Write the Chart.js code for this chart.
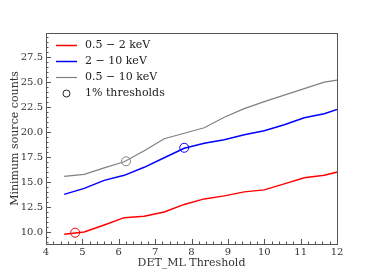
<!DOCTYPE html>
<html>
<head>
<meta charset="utf-8">
<script src="https://cdn.jsdelivr.net/npm/chart.js@4"></script>
<style>
  html, body { margin: 0; padding: 0; background: #fff; }
  #wrap { width: 374px; height: 280px; }
</style>
</head>
<body>
<div id="wrap"><canvas id="chart"></canvas></div>
<script>
// DET_ML grid and the minimum counts per band
const detml = [4.5, 5.05, 5.6, 6.15, 6.7, 7.25, 7.8, 8.35, 8.9, 9.45, 10.0, 10.55, 11.1, 11.65, 12.2];
const soft  = [9.83, 10.05, 10.75, 11.48, 11.62, 12.05, 12.8, 13.35, 13.65, 14.05, 14.25, 14.85, 15.45, 15.7, 16.2];
const hard  = [13.8, 14.4, 15.2, 15.7, 16.5, 17.45, 18.4, 18.9, 19.25, 19.75, 20.15, 20.75, 21.45, 21.85, 22.5];
const full  = [15.6, 15.8, 16.45, 17.05, 18.15, 19.35, 19.9, 20.45, 21.5, 22.35, 23.05, 23.7, 24.35, 25.0, 25.3];

const bandLabels = ['0.5 \u2212 2 keV', '2 \u2212 10 keV', '0.5 \u2212 10 keV'];
const bandColors = ['#ff0000', '#0000ff', '#808080'];

// 1% thresholds (red, gray, blue)
const thrX = [4.8, 6.2, 7.8];
const thrY = [9.98, 17.1, 18.45];
const thrColors = ['#ff0000', '#808080', '#0000ff'];

const xMajor = [4, 5, 6, 7, 8, 9, 10, 11, 12];
const yMajor = [10, 12.5, 15, 17.5, 20, 22.5, 25, 27.5];

const serif = 'DejaVu Serif';
const txt = '#333';

function pts(xs, ys) {
  return xs.map((x, i) => ({x: x, y: ys[i]}));
}

// frame, inward ticks and the legend box inside the axes
const mplStyle = {
  id: 'mplStyle',
  afterDraw(chart) {
    const ctx = chart.ctx;
    const a = chart.chartArea;
    const sx = chart.scales.x, sy = chart.scales.y;
    ctx.save();
    ctx.strokeStyle = '#555';
    ctx.lineWidth = 1;
    ctx.beginPath();
    for (let v = 4; v <= 12.0001; v += 0.2) {
      const px = Math.round(sx.getPixelForValue(v)) + 0.5;
      const major = Math.abs(v - Math.round(v)) < 0.01;
      ctx.moveTo(px, a.bottom);
      ctx.lineTo(px, a.bottom - (major ? 5 : 2.5));
    }
    for (let v = 9; v <= 29.5001; v += 0.5) {
      const py = Math.round(sy.getPixelForValue(v)) + 0.5;
      const major = Math.abs(v / 2.5 - Math.round(v / 2.5)) < 0.01;
      ctx.moveTo(a.left, py);
      ctx.lineTo(a.left + (major ? 5 : 2.5), py);
    }
    ctx.stroke();
    ctx.strokeRect(Math.round(a.left) + 0.5, Math.round(a.top) + 0.5,
      Math.round(a.right - a.left), Math.round(a.bottom - a.top));

    // legend
    ctx.font = '11px "' + serif + '"';
    ctx.textBaseline = 'middle';
    ctx.fillStyle = '#222';
    const x0 = a.left + 10, x1 = a.left + 31, tx = a.left + 39;
    bandLabels.forEach((lab, i) => {
      const y = a.top + 12.5 + i * 16;
      ctx.strokeStyle = bandColors[i];
      ctx.lineWidth = i === 2 ? 1.2 : 1.5;
      ctx.beginPath();
      ctx.moveTo(x0, y);
      ctx.lineTo(x1, y);
      ctx.stroke();
      ctx.fillText(lab, tx, y);
    });
    const yc = a.top + 12.5 + 3 * 16;
    ctx.strokeStyle = '#222';
    ctx.lineWidth = 1;
    ctx.beginPath();
    ctx.arc((x0 + x1) / 2, yc, 3.5, 0, Math.PI * 2);
    ctx.stroke();
    ctx.fillText('1% thresholds', tx, yc);
    ctx.restore();
  }
};

new Chart(document.getElementById('chart'), {
  type: 'scatter',
  data: {
    datasets: [
      {label: bandLabels[0], data: pts(detml, soft), showLine: true, borderColor: bandColors[0], borderWidth: 1.5, pointRadius: 0},
      {label: bandLabels[1], data: pts(detml, hard), showLine: true, borderColor: bandColors[1], borderWidth: 1.5, pointRadius: 0},
      {label: bandLabels[2], data: pts(detml, full), showLine: true, borderColor: bandColors[2], borderWidth: 1.2, pointRadius: 0},
      {label: '1% thresholds', data: pts(thrX, thrY), showLine: false, pointStyle: 'circle', pointRadius: 4.5,
        pointBorderWidth: 1, pointBorderColor: thrColors, pointBackgroundColor: 'rgba(0,0,0,0)'}
    ]
  },
  options: {
    responsive: true,
    maintainAspectRatio: false,
    animation: false,
    layout: {padding: {top: 33, right: 37, left: 0, bottom: 0}},
    plugins: {legend: {display: false}, tooltip: {enabled: false}},
    scales: {
      x: {
        type: 'linear', min: 4, max: 12,
        grid: {display: false, drawTicks: false},
        border: {display: false},
        ticks: {stepSize: 1, padding: 2, color: txt, font: {family: serif, size: 10}},
        afterBuildTicks: s => { s.ticks = xMajor.map(v => ({value: v})); },
        afterFit: s => { s.height = 36; },
        title: {display: true, text: 'DET_ML Threshold', color: txt,
          font: {family: serif, size: 11}, padding: {top: 0, bottom: 10}}
      },
      y: {
        type: 'linear', min: 8.85, max: 29.9,
        grid: {display: false, drawTicks: false},
        border: {display: false},
        ticks: {padding: 3, color: txt, font: {family: serif, size: 10},
          callback: v => v.toFixed(1)},
        afterBuildTicks: s => { s.ticks = yMajor.map(v => ({value: v})); },
        afterFit: s => { s.width = 46; },
        title: {display: true, text: 'Minimum source counts', color: txt,
          font: {family: serif, size: 11}, padding: {top: 9, bottom: 0}}
      }
    }
  },
  plugins: [mplStyle]
});
</script>
</body>
</html>
